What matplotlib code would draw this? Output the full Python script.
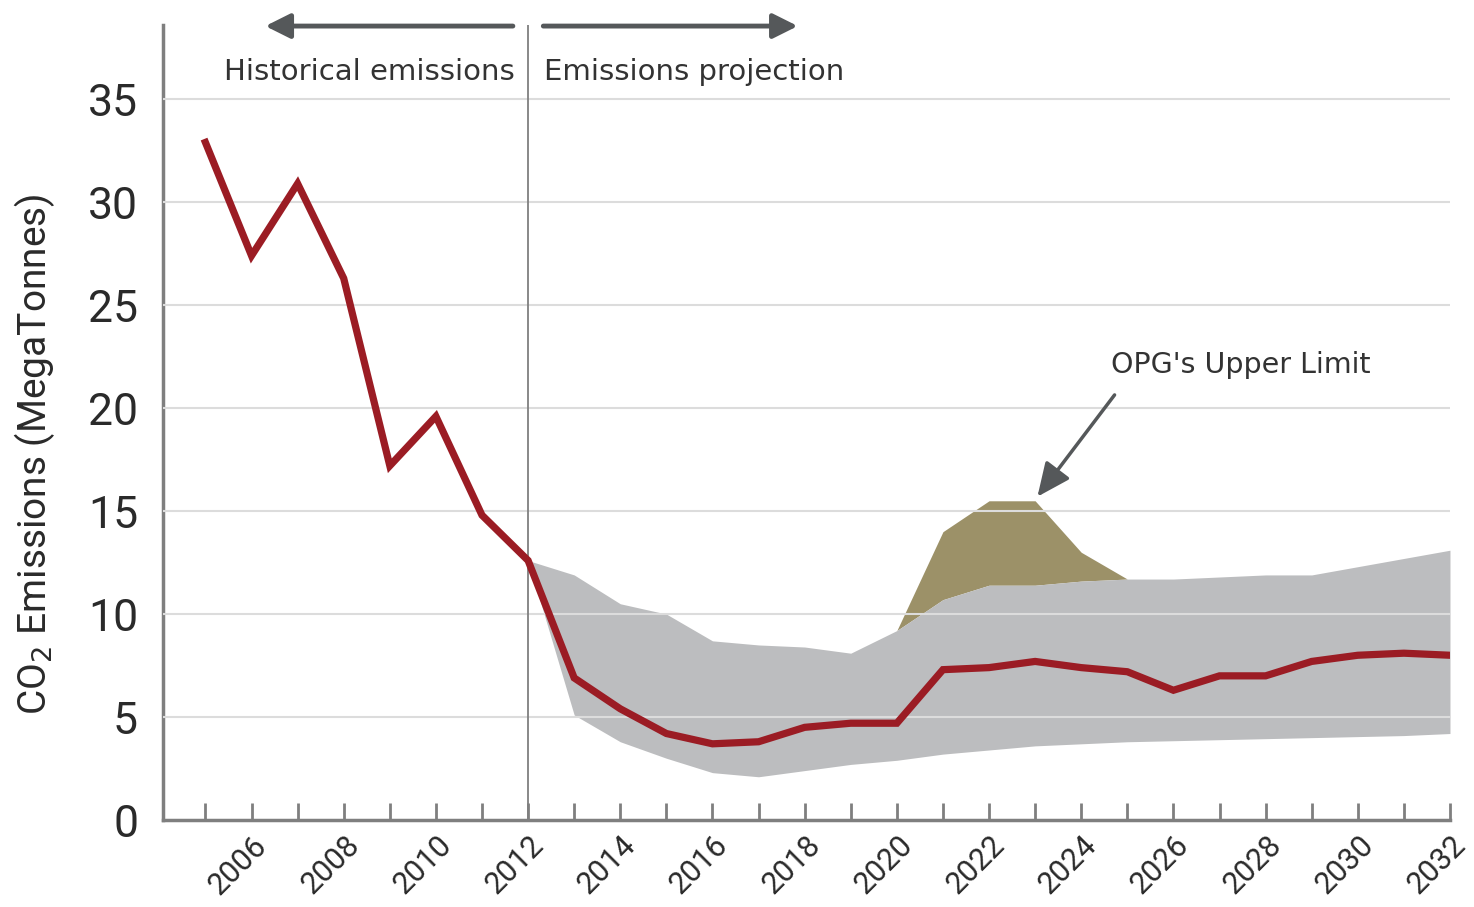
import matplotlib.pyplot as plt
import matplotlib.transforms as mtransforms

# data
years_hist = list(range(2005, 2013))
emis_hist = [32.9, 27.4, 30.9, 26.3, 17.2, 19.6, 14.8, 12.6]

years_proj = list(range(2012, 2033))
emis_proj = [12.6, 6.9, 5.4, 4.2, 3.7, 3.8, 4.5, 4.7, 4.7, 7.3, 7.4, 7.7,
             7.4, 7.2, 6.3, 7.0, 7.0, 7.7, 8.0, 8.1, 8.0]
band_upper = [12.6, 11.9, 10.5, 10.0, 8.7, 8.5, 8.4, 8.1, 9.2, 10.7, 11.4, 11.4,
              11.6, 11.7, 11.7, 11.8, 11.9, 11.9, 12.3, 12.7, 13.1]
band_lower = [12.6, 5.1, 3.8, 3.0, 2.3, 2.1, 2.4, 2.7, 2.9, 3.2, 3.4, 3.6,
              3.7, 3.8, 3.85, 3.9, 3.95, 4.0, 4.05, 4.1, 4.2]

years_opg = [2020, 2021, 2022, 2023, 2024, 2025]
opg_upper = [9.2, 14.0, 15.5, 15.5, 13.0, 11.7]
opg_base = [9.2, 10.7, 11.4, 11.4, 11.6, 11.7]

yticks = [0, 5, 10, 15, 20, 25, 30, 35]

FONT = 'Roboto'
RED = '#9b1c24'
GREY = '#bcbdbf'
OLIVE = '#9c9168'
AXC = '#7f7f7f'
ARROW = '#55585a'
TXT = '#2a2a2a'

fig = plt.figure(figsize=(14.74, 9.07), dpi=100)
ax = fig.add_axes([0.1106, 0.0959, 0.8731, 0.8765])

ax.fill_between(years_opg, opg_base, opg_upper, color=OLIVE, lw=0, zorder=1)
ax.fill_between(years_proj, band_lower, band_upper, color=GREY, lw=0, zorder=1)

ax.plot(years_hist + years_proj[1:], emis_hist + emis_proj[1:], color=RED, lw=5.2,
        solid_joinstyle='miter', zorder=4)

ax.set_xlim(2004.08, 2032)
ax.set_ylim(0, 38.6)

ax.set_yticks(yticks)
ax.yaxis.grid(True, color='#dcdcdc', lw=1.5)
ax.set_axisbelow(False)
ax.get_ygridlines()[0].set_visible(False)

ax.set_xticks(list(range(2005, 2033)))
ax.set_xticklabels([str(y) if y % 2 == 0 else '' for y in range(2005, 2033)])
ax.tick_params(axis='x', direction='in', length=12, width=2, color=AXC, pad=15)
ax.tick_params(axis='y', length=0, pad=18)
shift = mtransforms.ScaledTranslation(11 / 100, 0, fig.dpi_scale_trans)
for lab in ax.get_xticklabels():
    lab.set_rotation(45)
    lab.set_rotation_mode('anchor')
    lab.set_ha('right')
    lab.set_va('center')
    lab.set_fontsize(22)
    lab.set_family(FONT)
    lab.set_color(TXT)
    lab.set_transform(lab.get_transform() + shift)
for lab in ax.get_yticklabels():
    lab.set_fontsize(32)
    lab.set_family(FONT)
    lab.set_color(TXT)

for s in ['top', 'right']:
    ax.spines[s].set_visible(False)
for s in ['left', 'bottom']:
    ax.spines[s].set_color(AXC)
    ax.spines[s].set_linewidth(2.5)

ax.axvline(2012, color=AXC, lw=1.3, zorder=3)

ax.set_ylabel('CO$_2$ Emissions (MegaTonnes)', fontsize=28, family=FONT,
              color=TXT, labelpad=12)
ax.yaxis.set_label_coords(-0.082, 0.46)

# arrows and labels at the top
arrowprops = dict(arrowstyle='-|>,head_length=1.5,head_width=0.75', color=ARROW, lw=3.5,
                  shrinkA=0, shrinkB=0)
ax.annotate('', xy=(2006.3, 38.55), xytext=(2011.67, 38.55), arrowprops=arrowprops,
            annotation_clip=False)
ax.annotate('', xy=(2017.85, 38.55), xytext=(2012.33, 38.55), arrowprops=arrowprops,
            annotation_clip=False)
ax.text(2011.7, 36.3, 'Historical emissions', ha='right', va='center', fontsize=21,
        color='#333333')
ax.text(2012.35, 36.3, 'Emissions projection', ha='left', va='center', fontsize=21,
        color='#333333')

ax.annotate("OPG's Upper Limit", xy=(2023.05, 15.7), xytext=(2024.65, 22.1),
            ha='left', va='center', fontsize=20.5, color='#333333',
            arrowprops=dict(arrowstyle='-|>,head_length=1.0,head_width=0.45', color=ARROW,
                            lw=2.5, shrinkA=12, shrinkB=0, relpos=(0.06, 0.0)))

fig.savefig('out.png', dpi=100)
